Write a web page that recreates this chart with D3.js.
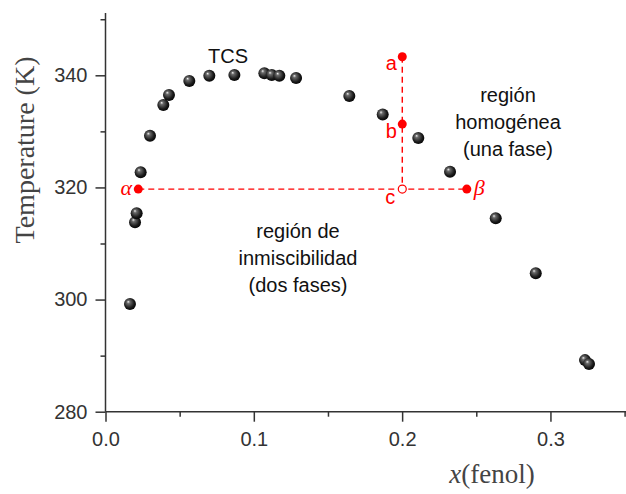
<!DOCTYPE html>
<html>
<head>
<meta charset="utf-8">
<script src="https://cdn.jsdelivr.net/npm/d3@7"></script>
<style>
  body { margin: 0; background: #fff; }
  svg { display: block; }
  .tick text { font-family: "Liberation Sans", Arial, sans-serif; font-size: 20px; fill: #333; }
</style>
</head>
<body>
<script>
// measured points: mole fraction of phenol vs temperature
var x_fenol = [0.0165, 0.0199, 0.0210, 0.0237, 0.0300, 0.0390, 0.0428, 0.0565, 0.0700, 0.0869, 0.1071,
  0.1121, 0.1172, 0.1285, 0.1644, 0.1869, 0.2109, 0.2323, 0.2631, 0.2901, 0.3233, 0.3260];
var temp_k = [299.2, 313.8, 315.4, 322.7, 329.2, 334.7, 336.5, 339.0, 339.9, 340.05, 340.35,
  340.05, 339.9, 339.5, 336.3, 333.0, 328.8, 322.8, 314.5, 304.7, 289.2, 288.5];

// red construction points
var mark_names = ["a", "b", "c", "α", "β"];
var mark_x = [0.2001, 0.2001, 0.2001, 0.0221, 0.2436];
var mark_t = [343.3, 331.3, 319.7, 319.7, 319.7];

var x_ticks = [0, 0.1, 0.2, 0.3];
var x_minor = [0.05, 0.15, 0.25, 0.35];
var y_ticks = [280, 300, 320, 340];
var y_minor = [290, 310, 330, 350];

var w = 626, h = 494;
var axis_col = "#333";
var red = "#f00";

var svg = d3.select("body").append("svg")
  .attr("width", w)
  .attr("height", h);

var x = d3.scaleLinear().domain([0, 0.35]).range([105.5, 624.6]);
var y = d3.scaleLinear().domain([280, 340]).range([411.7, 75.3]);

// sphere look for the data points
var grad = svg.append("defs").append("radialGradient")
  .attr("id", "ball")
  .attr("cx", "45%").attr("cy", "45%").attr("r", "60%")
  .attr("fx", "35%").attr("fy", "30%");
grad.append("stop").attr("offset", "0%").attr("stop-color", "#f0f0f0");
grad.append("stop").attr("offset", "22%").attr("stop-color", "#6a6a6a");
grad.append("stop").attr("offset", "70%").attr("stop-color", "#1a1a1a");
grad.append("stop").attr("offset", "100%").attr("stop-color", "#000");

// x axis
var gx = svg.append("g").attr("transform", "translate(0," + y(280) + ")");
gx.call(d3.axisBottom(x).tickValues(x_ticks).tickSize(10).tickSizeOuter(0)
  .tickPadding(10).tickFormat(d3.format(".1f")));
gx.append("g").call(d3.axisBottom(x).tickValues(x_minor).tickSize(5).tickFormat(""))
  .select(".domain").remove();
gx.select(".domain").remove();
gx.append("line").attr("x1", x(0)).attr("x2", w).attr("stroke", axis_col).attr("stroke-width", 1.5);
gx.selectAll(".tick line").attr("stroke", axis_col).attr("stroke-width", 1.5);

// y axis
var gy = svg.append("g").attr("transform", "translate(" + x(0) + ",0)");
gy.call(d3.axisLeft(y).tickValues(y_ticks).tickSize(10).tickSizeOuter(0).tickPadding(8));
gy.append("g").call(d3.axisLeft(y).tickValues(y_minor).tickSize(5).tickFormat(""))
  .select(".domain").remove();
gy.select(".domain").remove();
gy.append("line").attr("y1", 13).attr("y2", y(280)).attr("stroke", axis_col).attr("stroke-width", 1.5);
gy.selectAll(".tick line").attr("stroke", axis_col).attr("stroke-width", 1.5);

// axis titles
svg.append("text")
  .attr("transform", "translate(34,150) rotate(-90)")
  .attr("text-anchor", "middle")
  .style("font-family", "'Liberation Serif', 'Times New Roman', serif")
  .style("font-size", "28px")
  .style("fill", "#444")
  .text("Temperature (K)");

var xt = svg.append("text")
  .attr("x", 492).attr("y", 483)
  .attr("text-anchor", "middle")
  .style("font-family", "'Liberation Serif', 'Times New Roman', serif")
  .style("font-size", "27px")
  .style("fill", "#444");
xt.append("tspan").style("font-style", "italic").text("x");
xt.append("tspan").text("(fenol)");

// dashed tie line and vertical path
svg.append("line")
  .attr("x1", x(mark_x[3])).attr("x2", x(mark_x[4]))
  .attr("y1", y(mark_t[3])).attr("y2", y(mark_t[4]))
  .attr("stroke", red).attr("stroke-width", 1.4).attr("stroke-dasharray", "6,4");
svg.append("line")
  .attr("x1", x(mark_x[0])).attr("x2", x(mark_x[2]))
  .attr("y1", y(mark_t[0])).attr("y2", y(mark_t[2]))
  .attr("stroke", red).attr("stroke-width", 1.4).attr("stroke-dasharray", "6,4");

// data points
svg.selectAll("circle.pt")
  .data(x_fenol)
  .enter()
  .append("circle")
  .attr("class", "pt")
  .attr("cx", function(d){ return x(d); })
  .attr("cy", function(d, i){ return y(temp_k[i]); })
  .attr("r", 6)
  .attr("fill", "url(#ball)");

// red markers
svg.selectAll("circle.mk")
  .data(mark_names)
  .enter()
  .append("circle")
  .attr("class", "mk")
  .attr("cx", function(d, i){ return x(mark_x[i]); })
  .attr("cy", function(d, i){ return y(mark_t[i]); })
  .attr("r", function(d){ return d == "c" ? 4 : 4.5; })
  .attr("fill", function(d){ return d == "c" ? "#fff" : red; })
  .attr("stroke", red)
  .attr("stroke-width", function(d){ return d == "c" ? 1.2 : 0; });

// marker labels
var lab_dx = {"a": -11, "b": -11, "c": -12, "α": -12, "β": 7};
var lab_dy = {"a": 13, "b": 14, "c": 15, "α": 6, "β": 6};
svg.selectAll("text.mk")
  .data(mark_names)
  .enter()
  .append("text")
  .attr("class", "mk")
  .attr("x", function(d, i){ return x(mark_x[i]) + lab_dx[d]; })
  .attr("y", function(d, i){ return y(mark_t[i]) + lab_dy[d]; })
  .attr("text-anchor", function(d){ return d == "β" ? "start" : "middle"; })
  .style("font-family", function(d){
    return (d == "α" || d == "β") ? "'Liberation Serif', 'Times New Roman', serif" : "'Liberation Sans', Arial, sans-serif";
  })
  .style("font-style", function(d){ return (d == "α" || d == "β") ? "italic" : "normal"; })
  .style("font-size", function(d){ return (d == "α" || d == "β") ? "22px" : "20px"; })
  .style("fill", red)
  .text(function(d){ return d; });

// region annotations
function block(cx, y0, lines){
  svg.append("g").selectAll("text")
    .data(lines)
    .enter()
    .append("text")
    .attr("x", cx)
    .attr("y", function(d, i){ return y0 + i * 27; })
    .attr("text-anchor", "middle")
    .style("font-family", "'Liberation Sans', Arial, sans-serif")
    .style("font-size", "20px")
    .style("fill", "#111")
    .text(function(d){ return d; });
}
block(228, 63, ["TCS"]);
block(508, 102, ["región", "homogénea", "(una fase)"]);
block(298, 238, ["región de", "inmiscibilidad", "(dos fases)"]);
</script>
</body>
</html>
